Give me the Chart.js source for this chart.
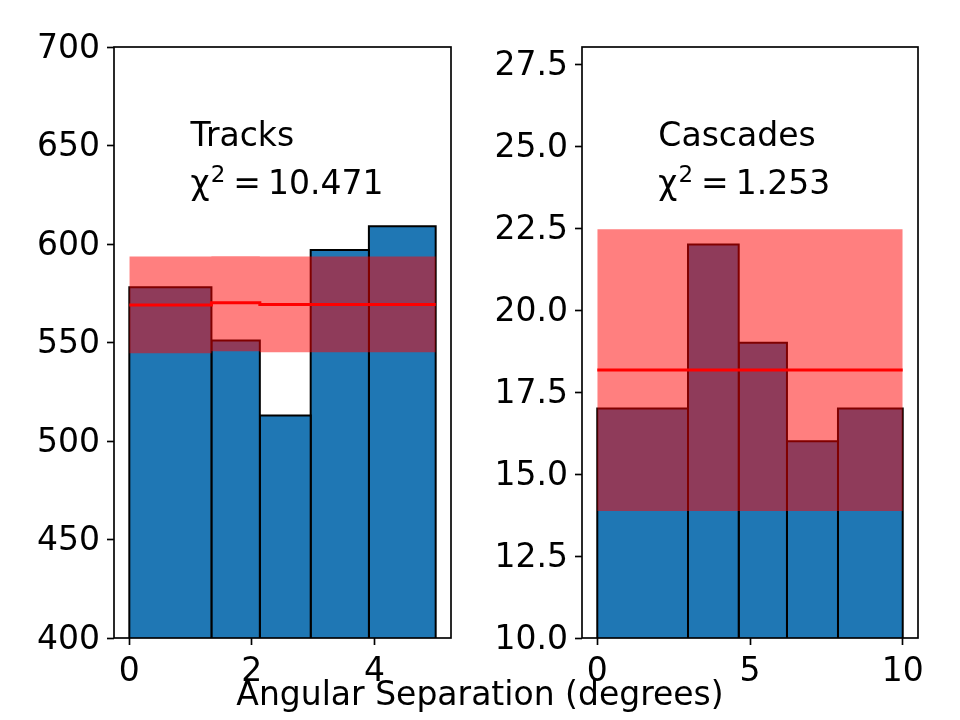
<!DOCTYPE html>
<html>
<head>
<meta charset="utf-8">
<script src="https://cdn.jsdelivr.net/npm/chart.js@4.4.1/dist/chart.umd.min.js"></script>
<style>
  body { margin: 0; background: #fff; }
  #wrap { position: relative; width: 960px; height: 720px; }
  canvas { position: absolute; top: 0; }
  #xlabel { position: absolute; left: 0; top: 677px; width: 960px; text-align: center;
            font: 33px 'DejaVu Sans'; line-height: 33px; color: #000; }
</style>
</head>
<body>
<div id="wrap">
  <canvas id="tracks" width="480" height="720" style="left:0"></canvas>
  <canvas id="cascades" width="480" height="720" style="left:480px"></canvas>
  <div id="xlabel">Angular Separation (degrees)</div>
</div>
<script>
// Tracks panel
const trackEdges = [0, 1.34, 2.13, 2.96, 3.91, 5.0];
const trackCounts = [578, 551, 513, 597, 609];
const trackExpected = [569.0, 570.2, 569.3, 569.3, 569.3];
const trackBandLow = [544.5, 545.5, 545.0, 545.0, 545.0];
const trackBandHigh = [593.6, 593.8, 593.6, 593.6, 593.6];
const trackTicksX = [0, 2, 4];
const trackTicksY = [400, 450, 500, 550, 600, 650, 700];

// Cascades panel
const cascadeEdges = [0, 2.97, 4.63, 6.21, 7.88, 10];
const cascadeCounts = [17, 22, 19, 16, 17];
const cascadeExpected = [18.17, 18.17, 18.17, 18.17, 18.17];
const cascadeBandLow = [13.87, 13.87, 13.87, 13.87, 13.87];
const cascadeBandHigh = [22.46, 22.46, 22.46, 22.46, 22.46];
const cascadeTicksX = [0, 5, 10];
const cascadeTicksY = [10, 12.5, 15, 17.5, 20, 22.5, 25, 27.5];

const FONT = "'DejaVu Sans'";

function stepPoints(edges, vals) {
  return edges.map((x, i) => ({x: x, y: vals[Math.min(i, vals.length - 1)]}));
}

function barSets(edges, counts, base) {
  return counts.map((c, i) => ({
    data: [{x: edges[i], y: base}, {x: edges[i], y: c}, {x: edges[i + 1], y: c}, {x: edges[i + 1], y: base}],
    borderColor: '#000',
    borderWidth: 2,
    backgroundColor: '#1f77b4',
    fill: 'start',
    pointRadius: 0,
    order: 2
  }));
}

const panelPlugin = {
  id: 'panel',
  afterDatasetsDraw(chart, args, opts) {
    const ctx = chart.ctx, a = chart.chartArea;
    const sx = chart.scales.x, sy = chart.scales.y;
    ctx.save();
    ctx.strokeStyle = '#000';
    ctx.lineWidth = 1.67;
    ctx.strokeRect(a.left, a.top, a.width, a.height);
    ctx.fillStyle = '#000';
    ctx.textBaseline = 'alphabetic';
    ctx.textAlign = 'left';
    ctx.font = '33px ' + FONT;
    ctx.fillText(opts.title, sx.getPixelForValue(opts.titleAt[0]), sy.getPixelForValue(opts.titleAt[1]));
    // chi^2 = value
    let x = sx.getPixelForValue(opts.chiAt[0]);
    const y = sy.getPixelForValue(opts.chiAt[1]);
    ctx.fillText('\u03c7', x, y);
    x += ctx.measureText('\u03c7').width + 1;
    ctx.font = '23px ' + FONT;
    ctx.fillText('2', x, y - 12);
    x += ctx.measureText('2').width + 8;
    ctx.font = '33px ' + FONT;
    ctx.fillText('=', x, y);
    x += ctx.measureText('=').width + 7;
    ctx.fillText(opts.chi, x, y);
    ctx.restore();
  }
};

function makePanel(id, p) {
  const datasets = barSets(p.edges, p.counts, p.yMin);
  datasets.push({
    data: stepPoints(p.edges, p.bandHigh),
    stepped: true, borderWidth: 0, pointRadius: 0,
    backgroundColor: 'rgba(255,0,0,0.5)', fill: '+1', order: 1
  });
  datasets.push({
    data: stepPoints(p.edges, p.bandLow),
    stepped: true, borderWidth: 0, pointRadius: 0, fill: false, order: 1
  });
  datasets.push({
    data: stepPoints(p.edges, p.expected),
    stepped: true, borderColor: '#ff0000', borderWidth: 3, pointRadius: 0, fill: false, order: 0
  });

  const tickFont = {family: FONT, size: 33};
  const grid = {display: true, drawOnChartArea: false, drawTicks: true, tickLength: 7,
                tickWidth: 1.67, tickColor: '#000'};

  return new Chart(document.getElementById(id), {
    type: 'line',
    data: {datasets: datasets},
    plugins: [panelPlugin],
    options: {
      responsive: false,
      animation: false,
      devicePixelRatio: 1,
      events: [],
      layout: {padding: p.padding},
      plugins: {
        legend: {display: false},
        tooltip: {enabled: false},
        panel: {title: p.title, chi: p.chi, titleAt: p.titleAt, chiAt: p.chiAt}
      },
      scales: {
        x: {
          type: 'linear', min: p.xMin, max: p.xMax,
          grid: grid, border: {display: false},
          afterBuildTicks: s => { s.ticks = p.ticksX.map(v => ({value: v})); },
          afterFit: s => { s.height = 82; },
          ticks: {font: tickFont, color: '#000', padding: 8, maxRotation: 0, autoSkip: false,
                  callback: v => String(v)}
        },
        y: {
          type: 'linear', min: p.yMin, max: p.yMax,
          grid: grid, border: {display: false},
          afterBuildTicks: s => { s.ticks = p.ticksY.map(v => ({value: v})); },
          afterFit: s => { s.width = p.yWidth; },
          ticks: {font: tickFont, color: '#000', padding: 7, autoSkip: false, labelOffset: 2,
                  callback: p.yFormat}
        }
      }
    }
  });
}

makePanel('tracks', {
  edges: trackEdges, counts: trackCounts, expected: trackExpected,
  bandLow: trackBandLow, bandHigh: trackBandHigh,
  ticksX: trackTicksX, ticksY: trackTicksY,
  xMin: -0.25, xMax: 5.25, yMin: 400, yMax: 700,
  yWidth: 114, padding: {left: 0, right: 29, top: 47, bottom: 0},
  yFormat: v => String(v),
  title: 'Tracks', chi: '10.471', titleAt: [1, 650], chiAt: [1, 625.5]
});

makePanel('cascades', {
  edges: cascadeEdges, counts: cascadeCounts, expected: cascadeExpected,
  bandLow: cascadeBandLow, bandHigh: cascadeBandHigh,
  ticksX: cascadeTicksX, ticksY: cascadeTicksY,
  xMin: -0.5, xMax: 10.5, yMin: 10, yMax: 28.02,
  yWidth: 102, padding: {left: 0, right: 42, top: 47, bottom: 0},
  yFormat: v => v.toFixed(1),
  title: 'Cascades', chi: '1.253', titleAt: [2, 25.0], chiAt: [2, 23.54]
});
</script>
</body>
</html>
